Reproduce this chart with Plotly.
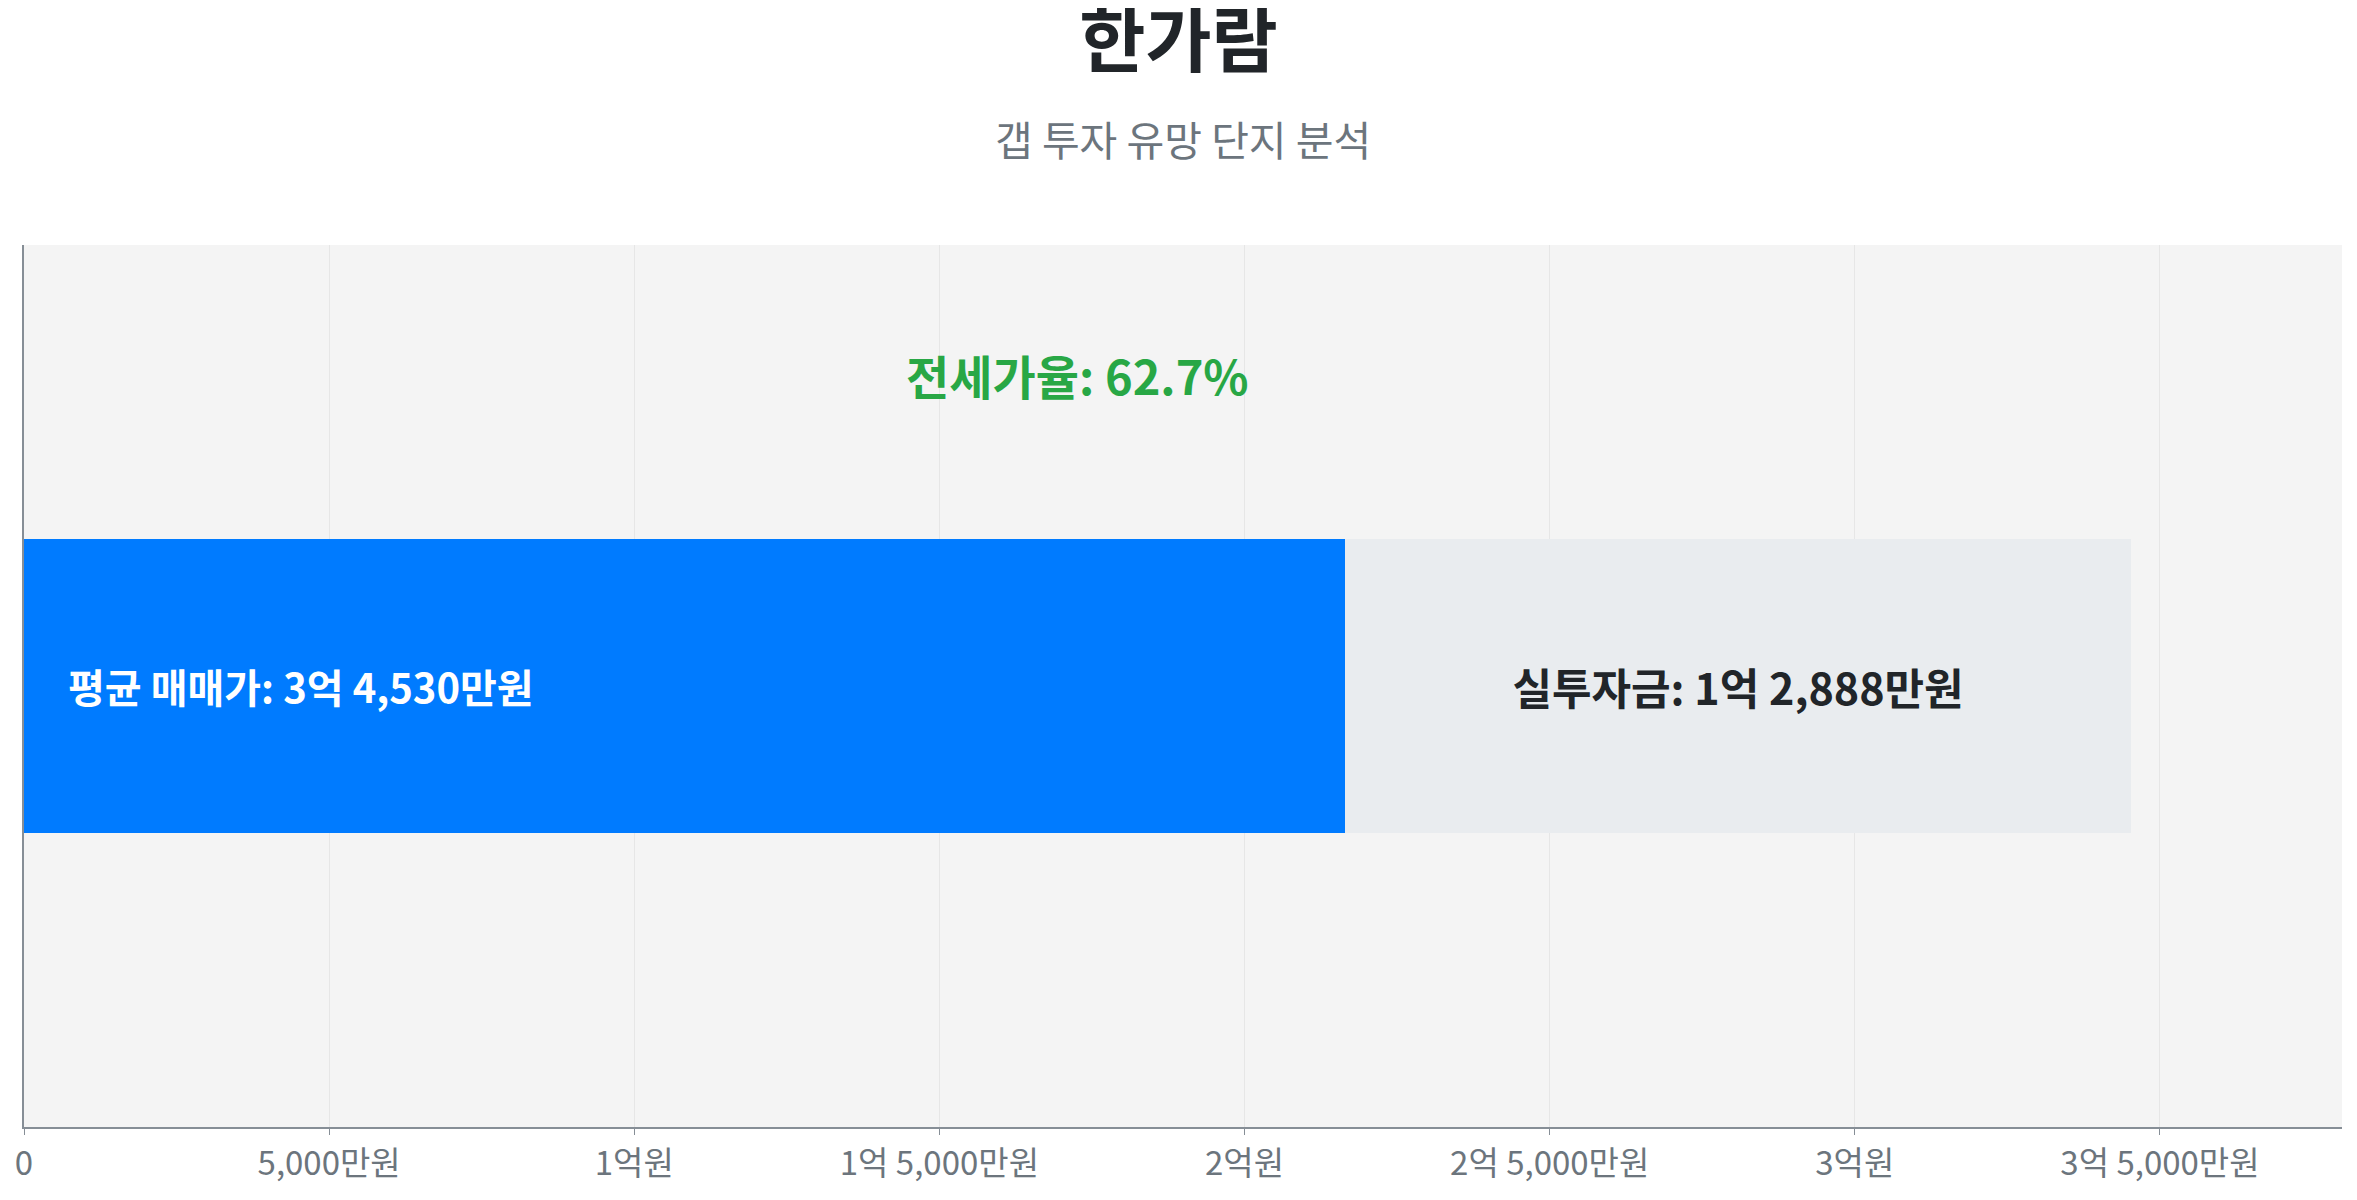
import plotly.graph_objects as go

# 단지 데이터 (단위: 원)
complex_names = ["한가람"]
sale_prices = [345300000]
jeonse_prices = [216420000]
gap_amounts = [128880000]
jeonse_ratio = 62.7

tick_values = [0, 50000000, 100000000, 150000000, 200000000, 250000000, 300000000, 350000000]
tick_labels = ["0", "5,000만원", "1억원", "1억 5,000만원", "2억원", "2억 5,000만원", "3억원", "3억 5,000만원"]

sale_label = "평균 매매가: 3억 4,530만원"
gap_label = "실투자금: 1억 2,888만원"
subtitle = "갭 투자 유망 단지 분석"

FONT = "Noto Sans CJK KR"
W, H = 2341, 1184  # 페이지 body 여백(8px) 고려

fig = go.Figure()

# 전세가 부분 (파란색)
fig.add_trace(go.Bar(
    y=complex_names,
    x=jeonse_prices,
    orientation="h",
    marker=dict(color="#007bff", line=dict(width=0)),
    width=1 / 3,
    hoverinfo="skip",
))

# 실투자금 부분 (회색)
fig.add_trace(go.Bar(
    y=complex_names,
    x=gap_amounts,
    orientation="h",
    marker=dict(color="#e9ecef", line=dict(width=0)),
    width=1 / 3,
    text=[gap_label],
    textposition="inside",
    insidetextanchor="middle",
    textangle=0,
    textfont=dict(family=FONT, size=43, color="#212529", weight="bold"),
    hoverinfo="skip",
))

fig.add_annotation(
    x=0, y=complex_names[0], xref="x", yref="y",
    text=sale_label, showarrow=False,
    xanchor="left", xshift=42,
    font=dict(family=FONT, size=40, color="white", weight="bold"),
)

fig.add_annotation(
    x=sale_prices[0] / 2, y=0.853, xref="x", yref="paper",
    text="전세가율: %.1f%%" % jeonse_ratio, showarrow=False,
    xanchor="center", yanchor="middle",
    font=dict(family=FONT, size=47, color="#28a745", weight="bold"),
)

fig.add_annotation(
    x=0.5, y=1.121, xref="paper", yref="paper",
    text=subtitle, showarrow=False,
    xanchor="center", yanchor="middle",
    font=dict(family=FONT, size=41, color="#6c757d"),
)

fig.update_layout(
    width=W,
    height=H,
    barmode="stack",
    showlegend=False,
    paper_bgcolor="white",
    plot_bgcolor="#f4f4f4",
    margin=dict(l=16, r=7, t=237, b=54),
    font=dict(family=FONT, color="#6c757d"),
    title=dict(
        text="한가람",
        x=0.5, xanchor="center",
        y=1 - 33 / H, yanchor="middle",
        font=dict(family=FONT, size=72, color="#212529", weight="bold"),
    ),
)

fig.update_xaxes(
    range=[0, sale_prices[0] * 1.1],
    tickvals=tick_values,
    ticktext=tick_labels,
    tickfont=dict(family=FONT, size=33, color="#6c757d"),
    showgrid=True,
    gridcolor="#e6e6e6",
    gridwidth=1,
    zeroline=False,
    showline=True,
    linecolor="#868e96",
    linewidth=2,
    ticks="outside",
    ticklen=6,
    tickcolor="#868e96",
)
fig.update_yaxes(
    showticklabels=False,
    showgrid=False,
    zeroline=False,
    showline=True,
    linecolor="#868e96",
    linewidth=2,
)

fig.write_html("out.html")
